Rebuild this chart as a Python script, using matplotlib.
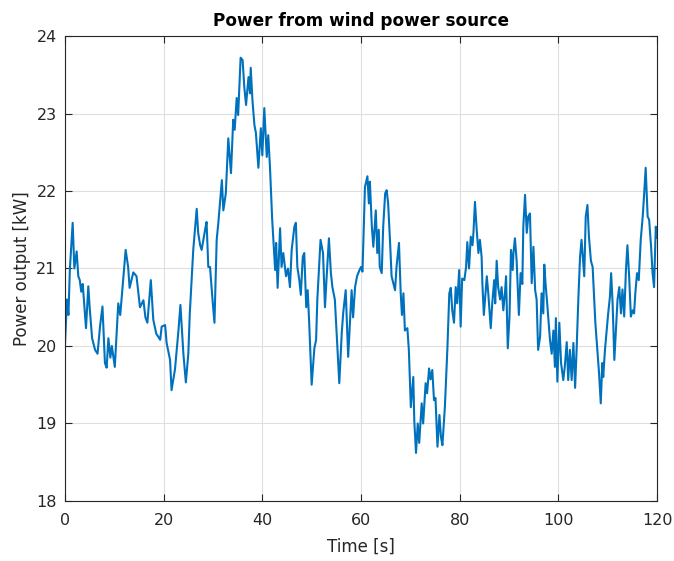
import matplotlib
matplotlib.use('Agg')
import matplotlib.pyplot as plt

# values (time [s], power [kW])
time_s = [0, 0.4, 0.7, 1.0, 1.56, 1.9, 2.37, 2.7, 3.0, 3.3, 3.6, 4.26, 4.73, 5.0, 5.5,
          6.1, 6.6, 7.1, 7.6, 8.1, 8.45, 8.8, 9.2, 9.5, 10.1, 10.8, 11.2, 12.3, 12.8, 13.1,
          13.85, 14.5, 15.2, 15.9, 16.3, 16.7, 17.4, 17.9, 18.5, 19.3, 19.6, 20.3, 20.6,
          21.3, 21.6, 22.3, 23.0, 23.4, 24.0, 24.5, 25.0, 25.3, 26.0, 26.7, 27.0, 27.4,
          27.7, 28.4, 28.7, 29.05, 29.4, 29.9, 30.3, 30.75, 31.1, 31.8, 32.1, 32.6, 33.1,
          33.65, 34.1, 34.4, 34.8, 35.1, 35.6, 36.0, 36.35, 36.7, 37.2, 37.5, 37.65, 38.0,
          38.4, 38.7, 39.2, 39.7, 40.0, 40.4, 40.9, 41.2, 41.55, 42.0, 42.6, 42.8, 43.1,
          43.6, 43.9, 44.25, 44.8, 45.2, 45.6, 45.95, 46.5, 46.8, 47.1, 47.5, 47.8, 48.2,
          48.5, 48.9, 49.2, 49.5, 50.0, 50.55, 50.9, 51.15, 51.8, 52.3, 52.7, 53.0, 53.5,
          53.9, 54.2, 54.7, 55.1, 55.6, 56.1, 56.4, 56.9, 57.4, 58.1, 58.4, 58.8, 59.2,
          59.7, 60.0, 60.3, 60.8, 61.3, 61.6, 61.8, 62.2, 62.5, 63.0, 63.3, 63.6, 63.8,
          64.2, 64.5, 64.9, 65.2, 65.5, 65.9, 66.2, 66.55, 66.9, 67.2, 67.7, 68.05, 68.3,
          68.6, 68.9, 69.4, 69.7, 70.1, 70.6, 70.8, 71.15, 71.5, 71.8, 72.3, 72.6, 73.1,
          73.4, 73.8, 74.1, 74.45, 74.8, 75.1, 75.5, 75.9, 76.2, 76.5, 77.0, 77.5, 77.9,
          78.2, 78.5, 78.85, 79.2, 79.5, 79.9, 80.2, 80.5, 80.95, 81.3, 81.55, 81.9, 82.25,
          82.6, 82.8, 83.1, 83.45, 83.8, 84.1, 84.45, 84.6, 84.9, 85.5, 85.8, 86.3, 86.6,
          87.0, 87.2, 87.5, 87.8, 88.2, 88.5, 88.85, 89.2, 89.4, 89.75, 90.1, 90.4, 90.75,
          90.9, 91.2, 91.55, 92.0, 92.35, 92.7, 92.9, 93.25, 93.6, 93.9, 94.25, 94.6, 94.95,
          95.3, 95.6, 95.9, 96.3, 96.6, 96.95, 97.15, 97.4, 97.8, 98.3, 98.65, 99.0, 99.3,
          99.5, 99.8, 100.2, 100.55, 101.0, 101.3, 101.7, 102.0, 102.35, 102.7, 103.05,
          103.4, 103.7, 104.05, 104.4, 104.7, 105.05, 105.25, 105.55, 105.9, 106.2, 106.6,
          106.95, 107.2, 107.5, 107.9, 108.25, 108.6, 108.9, 109.1, 109.45, 109.8, 110.1,
          110.45, 110.7, 111.0, 111.35, 111.7, 112.0, 112.35, 112.7, 113.0, 113.35, 113.7,
          114.0, 114.35, 114.7, 115.05, 115.35, 115.6, 115.95, 116.3, 116.7, 117.1, 117.4,
          117.7, 118.1, 118.4, 118.8, 119.1, 119.4, 119.75, 120]
power_kw = [20.01, 20.6, 20.4, 21.0, 21.59, 21.0, 21.22, 20.9, 20.85, 20.7, 20.8, 20.23, 20.77,
            20.5, 20.1, 19.95, 19.9, 20.25, 20.51, 19.78, 19.72, 20.1, 19.85, 20.0, 19.73,
            20.55, 20.4, 21.24, 21.02, 20.75, 20.95, 20.9, 20.5, 20.59, 20.37, 20.3, 20.85,
            20.34, 20.16, 20.08, 20.25, 20.27, 20.04, 19.82, 19.43, 19.7, 20.2, 20.53, 19.9,
            19.53, 19.9, 20.42, 21.24, 21.77, 21.46, 21.3, 21.24, 21.5, 21.6, 21.02, 21.02,
            20.6, 20.3, 21.37, 21.6, 22.14, 21.75, 21.97, 22.68, 22.23, 22.92, 22.79, 23.2,
            22.98, 23.72, 23.69, 23.34, 23.11, 23.47, 23.26, 23.59, 23.17, 22.85, 22.75, 22.3,
            22.81, 22.46, 23.07, 22.44, 22.72, 22.31, 21.63, 20.98, 21.33, 20.75, 21.52, 21.02,
            21.2, 20.9, 21.0, 20.76, 21.24, 21.54, 21.59, 21.02, 20.85, 20.66, 21.15, 21.2,
            20.5, 20.72, 20.3, 19.5, 19.97, 20.08, 20.6, 21.37, 21.2, 20.5, 20.85, 21.39,
            20.94, 20.76, 20.6, 20.12, 19.52, 20.17, 20.43, 20.72, 19.86, 20.72, 20.37, 20.76,
            20.9, 20.98, 21.02, 20.96, 22.05, 22.19, 21.84, 22.12, 21.54, 21.28, 21.75, 21.2,
            21.5, 21.02, 20.94, 21.54, 21.97, 22.01, 21.84, 21.33, 20.9, 20.81, 20.72, 21.02,
            21.33, 20.68, 20.4, 20.68, 20.2, 20.23, 19.95, 19.21, 19.6, 19.04, 18.62, 19.0,
            18.75, 19.26, 19.0, 19.52, 19.39, 19.71, 19.57, 19.69, 19.3, 19.33, 18.7, 19.11,
            18.83, 18.72, 19.21, 19.95, 20.68, 20.75, 20.46, 20.3, 20.76, 20.55, 20.98, 20.25,
            20.87, 20.85, 21.02, 21.34, 21.0, 21.41, 21.3, 21.47, 21.86, 21.5, 21.2, 21.37,
            21.15, 20.81, 20.4, 20.9, 20.68, 20.23, 20.55, 20.85, 20.55, 21.1, 20.76, 20.6,
            20.76, 20.46, 20.7, 20.9, 19.97, 20.38, 21.24, 20.98, 21.2, 21.39, 21.1, 20.4,
            20.94, 20.8, 21.54, 21.95, 21.46, 21.67, 21.71, 20.81, 21.28, 20.72, 20.6, 19.95,
            20.12, 20.68, 20.42, 21.05, 20.81, 20.5, 20.08, 19.9, 20.2, 19.73, 20.36, 19.54,
            20.3, 19.78, 19.56, 19.73, 20.05, 19.56, 19.95, 19.56, 20.04, 19.46, 19.95, 20.6,
            21.15, 21.37, 21.07, 20.9, 21.67, 21.82, 21.41, 21.1, 21.02, 20.68, 20.3, 19.95,
            19.65, 19.26, 19.78, 19.6, 19.95, 20.2, 20.42, 20.63, 20.94, 20.55, 19.82, 20.25,
            20.6, 20.76, 20.42, 20.73, 20.38, 20.98, 21.3, 20.9, 20.38, 20.46, 20.42, 20.68,
            20.94, 20.85, 21.37, 21.67, 21.97, 22.3, 21.67, 21.63, 21.28, 20.94, 20.76, 21.54,
            21.4]

plt.rcParams['font.family'] = ['DejaVu Sans']

fig = plt.figure(figsize=(6.74, 5.61), dpi=100)
ax = fig.add_axes([0.0964, 0.107, 0.8784, 0.8288])

ax.plot(time_s, power_kw, color='#0072BD', lw=1.5)

ax.set_xlim(0, 120)
ax.set_ylim(18, 24)
ax.set_xticks(range(0, 121, 20))
ax.set_yticks(range(18, 25))
ax.grid(True, color='#dfdfdf', lw=0.8)
ax.set_axisbelow(True)

for s in ax.spines.values():
    s.set_color('#262626')
    s.set_linewidth(0.8)
ax.tick_params(direction='in', top=True, right=True, length=5, width=0.8,
               colors='#262626', labelsize=11.5, labelcolor='#262626')
ax.tick_params(axis='x', pad=9)
ax.tick_params(axis='y', pad=6)

ax.set_xlabel('Time [s]', fontsize=12, color='#262626', labelpad=7)
ax.set_ylabel('Power output [kW]', fontsize=12, color='#262626', labelpad=4)
ax.set_title('Power from wind power source', fontsize=12.2, fontweight='bold', pad=7)

fig.savefig('out.png', dpi=100)
